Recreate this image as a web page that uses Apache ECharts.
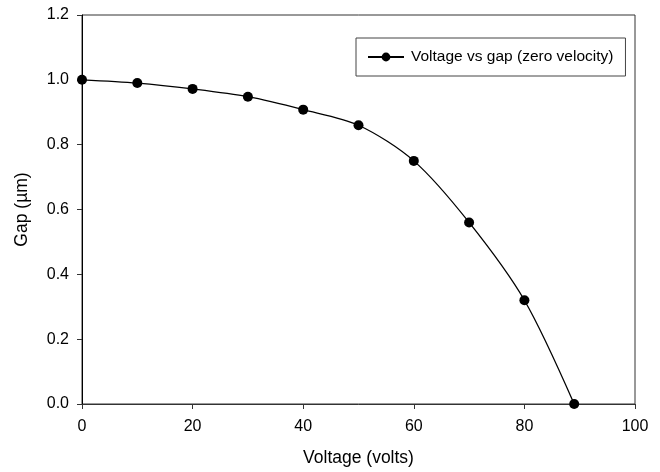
<!DOCTYPE html>
<html><head><meta charset="utf-8">
<script src="https://cdn.jsdelivr.net/npm/echarts@6/dist/echarts.min.js"></script>
<style>html,body{margin:0;padding:0;background:#fff}#c{width:660px;height:472px}</style>
</head><body><div id="c"></div>
<script>
const voltage = [0, 10, 20, 30, 40, 50, 60, 70, 80, 89];
const gap = [1.0, 0.990, 0.972, 0.948, 0.908, 0.860, 0.750, 0.560, 0.320, 0.0];
const seriesName = 'Voltage vs gap (zero velocity)';
const xTitle = 'Voltage (volts)';
const yTitle = 'Gap (\u00b5m)';

const font = 'Liberation Sans, Arial, sans-serif';
const chart = echarts.init(document.getElementById('c'));
chart.setOption({
  animation: false,
  backgroundColor: '#fff',
  grid: { left: 82, right: 25, top: 15, bottom: 67, show: true, borderColor: '#333', borderWidth: 1 },
  legend: {
    left: 356, top: 38,
    padding: [11, 12, 11, 11],
    borderColor: '#444', borderWidth: 1,
    itemWidth: 36, itemHeight: 11,
    textStyle: { fontFamily: font, fontSize: 15.5, color: '#000', padding: [0, 0, 0, 2] },
    data: [seriesName]
  },
  xAxis: {
    type: 'value', min: 0, max: 100, interval: 20,
    name: xTitle, nameLocation: 'middle', nameGap: 45,
    nameTextStyle: { fontFamily: font, fontSize: 17.5, color: '#000' },
    axisLine: { lineStyle: { color: '#333' } },
    axisTick: { length: 5, lineStyle: { color: '#333' } },
    axisLabel: { fontFamily: font, fontSize: 16, color: '#000', margin: 15 },
    splitLine: { show: false }
  },
  yAxis: {
    type: 'value', min: 0, max: 1.2, interval: 0.2,
    name: yTitle, nameLocation: 'middle', nameGap: 51,
    nameTextStyle: { fontFamily: font, fontSize: 17.5, color: '#000' },
    axisLine: { lineStyle: { color: '#000' } },
    axisTick: { length: 5, lineStyle: { color: '#333' } },
    axisLabel: { fontFamily: font, fontSize: 16, color: '#000', margin: 13, formatter: v => v.toFixed(1) },
    splitLine: { show: false }
  },
  series: [{
    name: seriesName,
    type: 'line',
    data: voltage.map((v, i) => [v, gap[i]]),
    smooth: 0.3,
    clip: false,
    symbol: 'circle', symbolSize: 10,
    itemStyle: { color: '#000' },
    lineStyle: { color: '#000', width: 1.3 }
  }]
});
</script></body></html>
